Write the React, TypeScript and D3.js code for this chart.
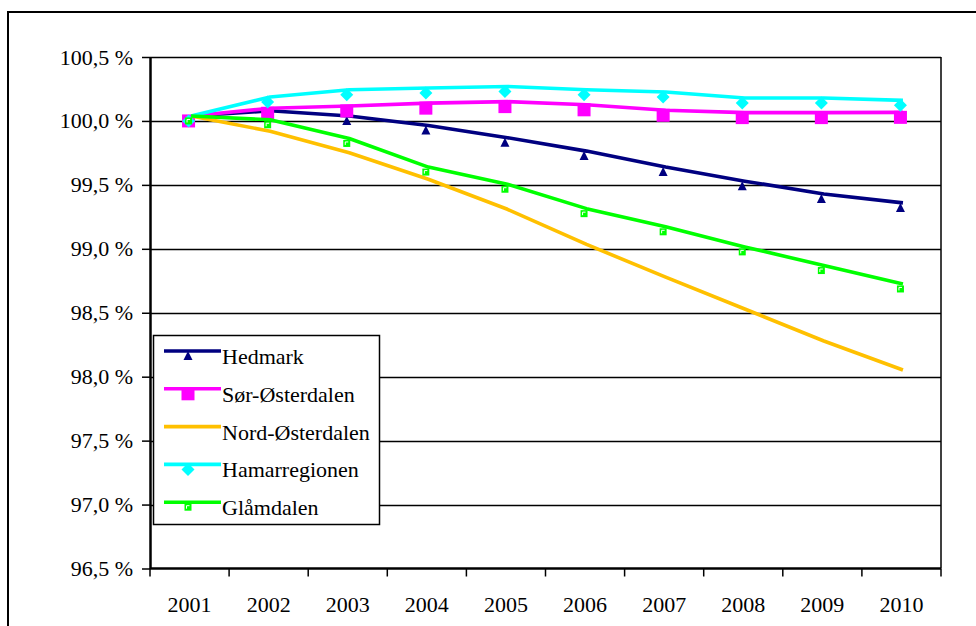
import React, { useRef, useEffect } from "react";
import * as d3 from "d3";

const years = ["2001", "2002", "2003", "2004", "2005", "2006", "2007", "2008", "2009", "2010"];
const seriesNames = ["Hedmark", "Sør-Østerdalen", "Nord-Østerdalen", "Hamarregionen", "Glåmdalen"];
const hedmark = [100.0, 100.04, 100.0, 99.925, 99.83, 99.725, 99.6, 99.49, 99.39, 99.32];
const sorOsterdalen = [100.0, 100.06, 100.078, 100.1, 100.112, 100.087, 100.044, 100.026, 100.026, 100.028];
const nordOsterdalen = [100.0, 99.88, 99.712, 99.505, 99.27, 98.995, 98.74, 98.49, 98.24, 98.013];
const hamarregionen = [100.0, 100.148, 100.205, 100.218, 100.23, 100.205, 100.187, 100.14, 100.14, 100.122];
const glamdalen = [100.0, 99.97, 99.824, 99.6, 99.466, 99.275, 99.133, 98.976, 98.83, 98.686];
const yTicks = [96.5, 97.0, 97.5, 98.0, 98.5, 99.0, 99.5, 100.0, 100.5];

const colors = ["#000080", "#FF00FF", "#FFC000", "#00FFFF", "#00FF00"];
const markers = ["triangle", "square", "none", "diamond", "small"];

const FONT = "Liberation Serif, DejaVu Serif, serif";
const FS = "22px";

const App: React.FC = () => {
  const svgRef = useRef<SVGSVGElement | null>(null);

  useEffect(() => {
    if (!svgRef.current) return;
    const svg = d3.select(svgRef.current);
    svg.selectAll("*").remove();

    const left = 150, right = 941, top = 57, bottom = 568.5;
    const allSeries = [hedmark, sorOsterdalen, nordOsterdalen, hamarregionen, glamdalen];

    const x = d3.scaleBand<string>().domain(years).range([left, right]).padding(0);
    const cx = (yr: string) => (x(yr) as number) + x.bandwidth() / 2;
    const y = d3.scaleLinear().domain([96.5, 100.5]).range([bottom, top]);

    // outer frame
    svg.append("rect").attr("x", 8).attr("y", 12).attr("width", 1000).attr("height", 700)
      .attr("fill", "white").attr("stroke", "black").attr("stroke-width", 2);

    // gridlines
    svg.append("g").selectAll("line").data(yTicks.slice(1)).join("line")
      .attr("x1", left).attr("x2", right)
      .attr("y1", (d) => Math.round(y(d)) + 0.5).attr("y2", (d) => Math.round(y(d)) + 0.5)
      .attr("stroke", "black").attr("stroke-width", 1.3);
    svg.append("line").attr("x1", right).attr("x2", right).attr("y1", top).attr("y2", bottom)
      .attr("stroke", "black").attr("stroke-width", 1.5);

    // y axis
    const fmt = (d: number) => d3.format(".1f")(d).replace(".", ",") + " %";
    const yAxis = svg.append("g").attr("transform", `translate(${left},0)`)
      .call(d3.axisLeft(y).tickValues(yTicks).tickSize(8).tickSizeOuter(0).tickFormat((d) => fmt(d as number)));
    yAxis.attr("font-family", null).attr("font-size", null);
    yAxis.select(".domain").attr("stroke-width", 2.5);
    yAxis.selectAll(".tick line").attr("stroke-width", 1.5);
    yAxis.selectAll("text").style("font-family", FONT).style("font-size", FS).attr("fill", "black")
      .attr("x", -17);

    // x axis
    const xAxis = svg.append("g").attr("transform", `translate(0,${bottom})`);
    xAxis.append("line").attr("x1", left).attr("x2", right).attr("stroke", "black").attr("stroke-width", 2.5);
    xAxis.selectAll("line.tk").data(d3.range(years.length + 1)).join("line").attr("class", "tk")
      .attr("x1", (i) => left + i * x.bandwidth()).attr("x2", (i) => left + i * x.bandwidth())
      .attr("y1", 0).attr("y2", 8).attr("stroke", "black").attr("stroke-width", 1.5);
    xAxis.selectAll("text").data(years).join("text")
      .attr("x", (d) => cx(d)).attr("y", 43).attr("text-anchor", "middle")
      .style("font-family", FONT).style("font-size", FS).text((d) => d);

    const drawMarker = (g: any, kind: string, px: number, py: number, color: string) => {
      if (kind === "triangle") {
        g.append("path").attr("d", `M${px},${py - 5}L${px + 4.5},${py + 4}L${px - 4.5},${py + 4}Z`).attr("fill", color);
      } else if (kind === "square") {
        g.append("rect").attr("x", px - 6.5).attr("y", py - 6.5).attr("width", 13).attr("height", 13).attr("fill", color);
      } else if (kind === "diamond") {
        g.append("path").attr("d", `M${px},${py - 6.5}L${px + 6.5},${py}L${px},${py + 6.5}L${px - 6.5},${py}Z`).attr("fill", color);
      } else if (kind === "small") {
        g.append("rect").attr("x", px - 3.5).attr("y", py - 3.5).attr("width", 7).attr("height", 7).attr("fill", color);
        g.append("path").attr("d", `M${px - 1.5},${py + 1.5}V${py - 1.5}H${px + 1.5}`).attr("fill", "none")
          .attr("stroke", "white").attr("stroke-width", 1);
      }
    };

    const line = d3.line<number>().x((_, i) => cx(years[i])).y((d) => y(d));

    allSeries.forEach((vals, si) => {
      const g = svg.append("g");
      g.append("path").datum(vals).attr("d", line).attr("fill", "none")
        .attr("stroke", colors[si]).attr("stroke-width", 3.6).attr("stroke-linejoin", "round")
        .attr("transform", "translate(1.5,-5)");
      vals.forEach((v, i) => drawMarker(g, markers[si], cx(years[i]) - 1, y(v), colors[si]));
    });

    // legend
    const lg = svg.append("g");
    lg.append("rect").attr("x", 153.5).attr("y", 335.5).attr("width", 226).attr("height", 189)
      .attr("fill", "white").attr("stroke", "black").attr("stroke-width", 1.5);
    seriesNames.forEach((name, i) => {
      const ly = 351 + i * 37.8;
      lg.append("line").attr("x1", 164).attr("x2", 221).attr("y1", ly).attr("y2", ly)
        .attr("stroke", colors[i]).attr("stroke-width", 3.6);
      drawMarker(lg, markers[i], 188, ly + 5, colors[i]);
      lg.append("text").attr("x", 222).attr("y", ly + 13)
        .style("font-family", FONT).style("font-size", FS).text(name);
    });
  }, []);

  return (
    <svg ref={svgRef} width={976} height={626}
      style={{ position: "absolute", left: 0, top: 0, display: "block", background: "white" }} />
  );
};

export default App;
